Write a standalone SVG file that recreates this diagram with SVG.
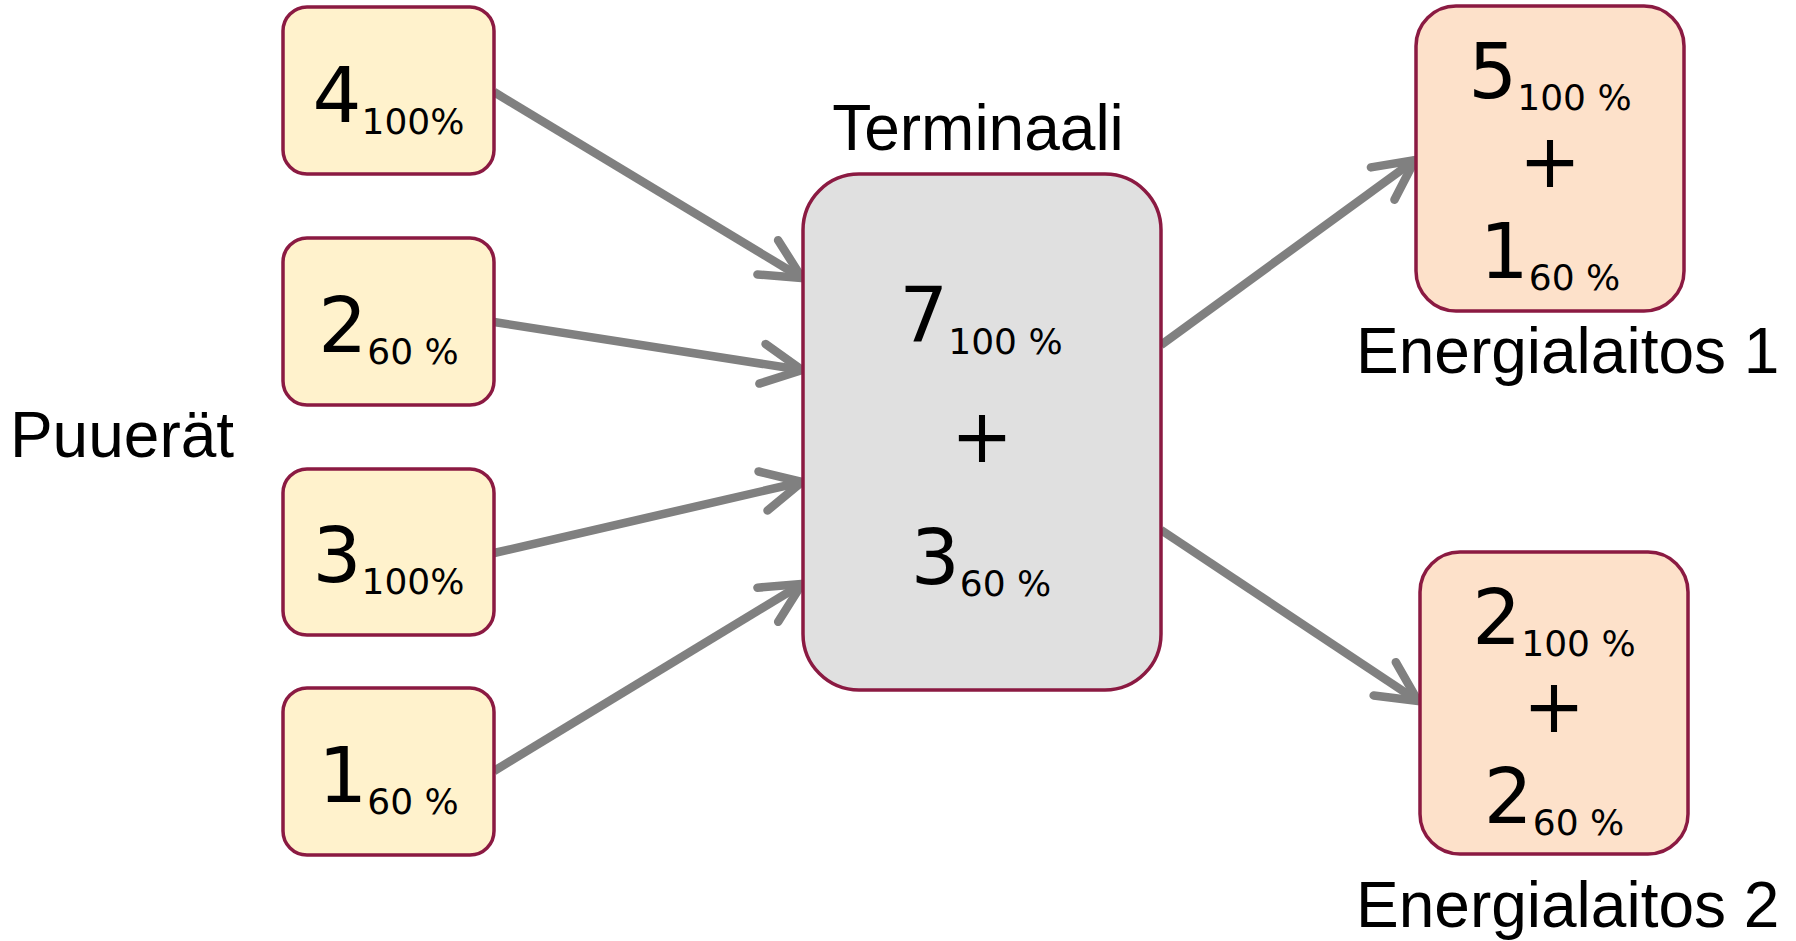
<svg xmlns="http://www.w3.org/2000/svg" width="1796" height="941" viewBox="0 0 1796 941">
<style>
.src{fill:#FFF2CC;stroke:#8B1A42;stroke-width:3.5}
.term{fill:#E0E0E0;stroke:#8B1A42;stroke-width:3.5}
.dst{fill:#FDE1CA;stroke:#8B1A42;stroke-width:3.5}
.num{font-family:"DejaVu Sans",Verdana,sans-serif;font-size:77px;fill:#000;text-anchor:middle}
.sub{font-size:36px}
.plus{font-family:"DejaVu Sans",Verdana,sans-serif;font-size:74px;fill:#000;text-anchor:middle}
.lbl{font-family:"Liberation Sans",Arial,sans-serif;font-size:64px;fill:#000}
.conn{fill:none;stroke:#808080;stroke-width:8.5;marker-end:url(#arr)}
</style>
<defs>
<marker id="arr" markerUnits="userSpaceOnUse" markerWidth="100" markerHeight="100" refX="0" refY="0" orient="auto" overflow="visible" viewBox="-60 -50 100 100">
<path d="M-40,-20 L0,0 L-40,20" fill="none" stroke="#808080" stroke-width="8.5" stroke-linecap="round" stroke-linejoin="miter"/>
</marker>
</defs>
<g id="connectors">
<line class="conn" x1="494" y1="92" x2="802" y2="278"/>
<line class="conn" x1="494" y1="322" x2="802" y2="370"/>
<line class="conn" x1="494" y1="553" x2="802" y2="482"/>
<line class="conn" x1="494" y1="771" x2="802" y2="584"/>
<line class="conn" x1="1161" y1="345" x2="1415" y2="160"/>
<line class="conn" x1="1161" y1="530" x2="1418" y2="701"/>
</g>
<g id="label-puuerat"><text class="lbl" x="122" y="457" text-anchor="middle">Puuerät</text></g>
<g id="node-4">
<rect class="src" x="283" y="7" width="211" height="167" rx="24"/>
<text class="num" x="388.5" y="122">4<tspan class="sub" dy="12">100%</tspan></text>
</g>
<g id="node-2">
<rect class="src" x="283" y="238" width="211" height="167" rx="24"/>
<text class="num" x="388.5" y="352">2<tspan class="sub" dy="12">60 %</tspan></text>
</g>
<g id="node-3">
<rect class="src" x="283" y="469" width="211" height="166" rx="24"/>
<text class="num" x="388.5" y="582">3<tspan class="sub" dy="12">100%</tspan></text>
</g>
<g id="node-1">
<rect class="src" x="283" y="688" width="211" height="167" rx="24"/>
<text class="num" x="388.5" y="802">1<tspan class="sub" dy="12">60 %</tspan></text>
</g>
<g id="node-terminaali">
<text class="lbl" x="978" y="150" text-anchor="middle">Terminaali</text>
<rect class="term" x="803" y="174" width="358" height="516" rx="56"/>
<text class="num" x="981" y="342">7<tspan class="sub" dy="12">100 %</tspan></text>
<text class="plus" x="982" y="462">+</text>
<text class="num" x="981" y="584">3<tspan class="sub" dy="12">60 %</tspan></text>
</g>
<g id="node-energialaitos-1">
<rect class="dst" x="1416" y="6" width="268" height="305" rx="40"/>
<text class="num" x="1550" y="98">5<tspan class="sub" dy="12">100 %</tspan></text>
<text class="plus" x="1550" y="187">+</text>
<text class="num" x="1550" y="278">1<tspan class="sub" dy="12">60 %</tspan></text>
<text class="lbl" x="1356" y="373">Energialaitos 1</text>
</g>
<g id="node-energialaitos-2">
<rect class="dst" x="1420" y="552" width="268" height="302" rx="40"/>
<text class="num" x="1554" y="644">2<tspan class="sub" dy="12">100 %</tspan></text>
<text class="plus" x="1554" y="732">+</text>
<text class="num" x="1554" y="823">2<tspan class="sub" dy="12">60 %</tspan></text>
<text class="lbl" x="1356" y="927">Energialaitos 2</text>
</g>
</svg>
